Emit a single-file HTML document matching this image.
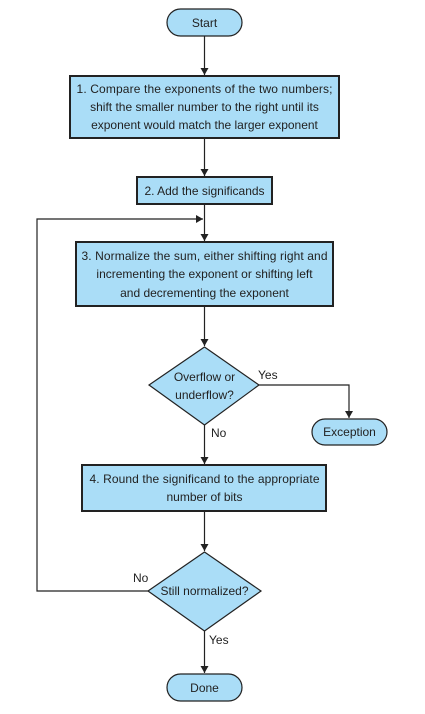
<!DOCTYPE html>
<html><head><style>body{margin:0;background:#fff}</style></head><body>
<svg width="425" height="709" viewBox="0 0 425 709" xmlns="http://www.w3.org/2000/svg" font-family="Liberation Sans, sans-serif" font-size="12" fill="#222">
<defs><marker id="a" markerWidth="8" markerHeight="10" refX="7" refY="5" orient="auto" markerUnits="userSpaceOnUse"><path d="M0,1 L7,5 L0,9 Z" fill="#222"/></marker></defs>
<g stroke="#222" stroke-width="1.2" fill="none">
<line x1="204.5" y1="36" x2="204.5" y2="75" marker-end="url(#a)"/>
<line x1="204.5" y1="138" x2="204.5" y2="176" marker-end="url(#a)"/>
<line x1="204.5" y1="204" x2="204.5" y2="241" marker-end="url(#a)"/>
<polyline points="148,591 37,591 37,219 203,219" marker-end="url(#a)"/>
<line x1="204.5" y1="306" x2="204.5" y2="346" marker-end="url(#a)"/>
<polyline points="259,385 349,385 349,418" marker-end="url(#a)"/>
<line x1="204.5" y1="425" x2="204.5" y2="464" marker-end="url(#a)"/>
<line x1="204.5" y1="511" x2="204.5" y2="551" marker-end="url(#a)"/>
<line x1="204.5" y1="631" x2="204.5" y2="673" marker-end="url(#a)"/>
</g>
<g fill="#aaddf7" stroke="#222">
<rect x="167" y="9" width="75" height="27" rx="13.5" stroke-width="1.2"/>
<rect x="70" y="76" width="269" height="62" stroke-width="2"/>
<rect x="137" y="177" width="135" height="27" stroke-width="2"/>
<rect x="76" y="242" width="257" height="64" stroke-width="2"/>
<polygon points="204.5,347 259,385 204.5,425 149,385" stroke-width="1.2"/>
<rect x="312" y="419" width="75" height="26" rx="13" stroke-width="1.2"/>
<rect x="82" y="465" width="244" height="46" stroke-width="2"/>
<polygon points="204.5,552 261,591 204.5,631 148,591" stroke-width="1.2"/>
<rect x="167" y="674" width="75" height="27" rx="13.5" stroke-width="1.2"/>
</g>
<g text-anchor="middle">
<text x="204.5" y="27">Start</text>
<text x="204.5" y="93" textLength="256">1.  Compare the exponents of the two numbers;</text>
<text x="204.5" y="111">shift the smaller number to the right until its</text>
<text x="204.5" y="129">exponent would match the larger exponent</text>
<text x="204.5" y="195">2. Add the significands</text>
<text x="204.5" y="260" textLength="246">3. Normalize the sum, either shifting right and</text>
<text x="204.5" y="278">incrementing the exponent or shifting left</text>
<text x="204.5" y="297">and decrementing the exponent</text>
<text x="204.5" y="381">Overflow or</text>
<text x="204.5" y="399">underflow?</text>
<text x="349.5" y="436">Exception</text>
<text x="204.5" y="483" textLength="230">4. Round the significand to the appropriate</text>
<text x="204.5" y="501">number of bits</text>
<text x="204.5" y="595">Still normalized?</text>
<text x="204.5" y="692">Done</text>
</g>
<text x="258" y="379">Yes</text>
<text x="211" y="437">No</text>
<text x="133" y="582">No</text>
<text x="209" y="644">Yes</text>
</svg>
</body></html>
